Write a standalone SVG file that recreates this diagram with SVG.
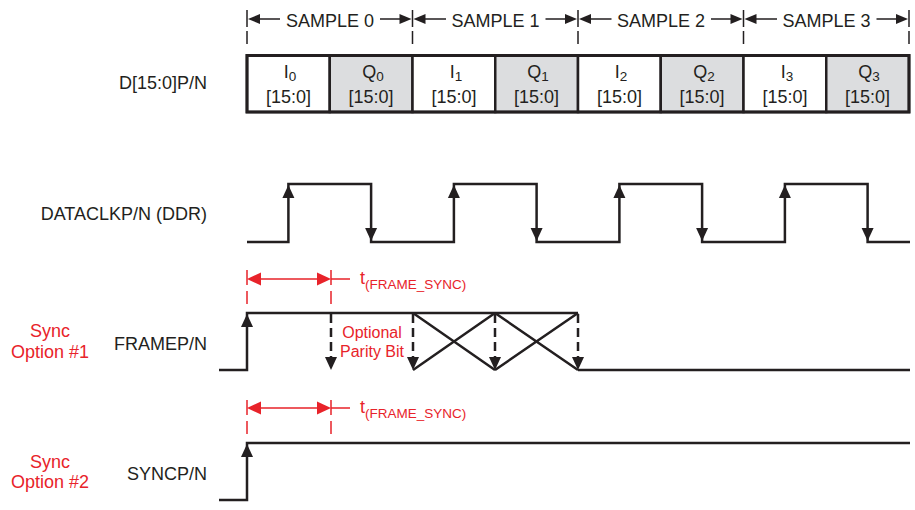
<svg xmlns="http://www.w3.org/2000/svg" xmlns:xlink="http://www.w3.org/1999/xlink" width="915" height="510" viewBox="0 0 915 510">
<style>
text{font-family:"Liberation Sans",Arial,sans-serif;fill:#231f20}
.lbl{font-size:18px}
.red{fill:#e8232a}
.sub{font-size:13.5px}
.box{stroke:#231f20;stroke-width:2.5}
.w{fill:none;stroke:#231f20;stroke-width:2.5}
.d{fill:none;stroke:#231f20;stroke-width:2.5;stroke-dasharray:9 5}
.tk{fill:none;stroke:#231f20;stroke-width:1.5}
.rl{fill:none;stroke:#e8232a;stroke-width:1.5}
.rd{fill:none;stroke:#e8232a;stroke-width:1.5;stroke-dasharray:15 6}
</style>
<defs>
<path id="aU" d="M0,0 L-6,13 L6,13 Z" fill="#231f20"/>
<path id="aD" d="M0,0 L-6,-13 L6,-13 Z" fill="#231f20"/>
<path id="aL" d="M0,0 L12,-5 L12,5 Z" fill="#231f20"/>
<path id="aR" d="M0,0 L-12,-5 L-12,5 Z" fill="#231f20"/>
<path id="rL" d="M0,0 L14,-6.5 L14,6.5 Z" fill="#e8232a"/>
<path id="rR" d="M0,0 L-14,-6.5 L-14,6.5 Z" fill="#e8232a"/>
</defs>

<g id="labels">
<text class="lbl" x="207" y="89" text-anchor="end">D[15:0]P/N</text>
<text class="lbl" x="207" y="220" text-anchor="end">DATACLKP/N (DDR)</text>
<text class="lbl" x="207" y="350" text-anchor="end">FRAMEP/N</text>
<text class="lbl" x="207" y="480" text-anchor="end">SYNCP/N</text>
<text class="lbl red" x="50" y="337" text-anchor="middle">Sync</text>
<text class="lbl red" x="50" y="358" text-anchor="middle">Option #1</text>
<text class="lbl red" x="50" y="468" text-anchor="middle">Sync</text>
<text class="lbl red" x="50" y="488" text-anchor="middle">Option #2</text>
</g>

<g id="samples">
<g fill="none" class="tk">
<path d="M247,10 V27 M247,31 V44 M412.5,10 V27 M412.5,31 V44 M578,10 V27 M578,31 V44 M743.5,10 V27 M743.5,31 V44 M909,10 V27 M909,31 V44"/>
<path d="M259,19 H280 M380,19 H400.5 M424.5,19 H446 M545.5,19 H566 M590,19 H611.5 M711,19 H731.5 M755.5,19 H777 M876.5,19 H897"/>
</g>
<use xlink:href="#aL" x="248" y="19"/><use xlink:href="#aR" x="411.5" y="19"/>
<use xlink:href="#aL" x="413.5" y="19"/><use xlink:href="#aR" x="577" y="19"/>
<use xlink:href="#aL" x="579" y="19"/><use xlink:href="#aR" x="742.5" y="19"/>
<use xlink:href="#aL" x="744.5" y="19"/><use xlink:href="#aR" x="908" y="19"/>
<text class="lbl" x="330" y="27" text-anchor="middle">SAMPLE 0</text>
<text class="lbl" x="495.5" y="27" text-anchor="middle">SAMPLE 1</text>
<text class="lbl" x="661" y="27" text-anchor="middle">SAMPLE 2</text>
<text class="lbl" x="826.5" y="27" text-anchor="middle">SAMPLE 3</text>
</g>

<g id="data-bus">
<g class="box">
<rect x="247" y="55.5" width="82.75" height="56.5" fill="#ffffff"/>
<rect x="329.75" y="55.5" width="82.75" height="56.5" fill="#dcdddf"/>
<rect x="412.5" y="55.5" width="82.75" height="56.5" fill="#ffffff"/>
<rect x="495.25" y="55.5" width="82.75" height="56.5" fill="#dcdddf"/>
<rect x="578" y="55.5" width="82.75" height="56.5" fill="#ffffff"/>
<rect x="660.75" y="55.5" width="82.75" height="56.5" fill="#dcdddf"/>
<rect x="743.5" y="55.5" width="82.75" height="56.5" fill="#ffffff"/>
<rect x="826.25" y="55.5" width="82.75" height="56.5" fill="#dcdddf"/>
</g>
<rect x="247" y="55.5" width="662" height="56.5" fill="none" stroke="#231f20" stroke-width="3"/>
<g class="lbl" text-anchor="middle">
<text x="290" y="78">I<tspan class="sub" dy="3">0</tspan></text>
<text x="373" y="78">Q<tspan class="sub" dy="3">0</tspan></text>
<text x="456" y="78">I<tspan class="sub" dy="3">1</tspan></text>
<text x="538" y="78">Q<tspan class="sub" dy="3">1</tspan></text>
<text x="621" y="78">I<tspan class="sub" dy="3">2</tspan></text>
<text x="704" y="78">Q<tspan class="sub" dy="3">2</tspan></text>
<text x="787" y="78">I<tspan class="sub" dy="3">3</tspan></text>
<text x="869" y="78">Q<tspan class="sub" dy="3">3</tspan></text>
<text x="288.4" y="103">[15:0]</text>
<text x="371.1" y="103">[15:0]</text>
<text x="453.9" y="103">[15:0]</text>
<text x="536.6" y="103">[15:0]</text>
<text x="619.4" y="103">[15:0]</text>
<text x="702.1" y="103">[15:0]</text>
<text x="784.9" y="103">[15:0]</text>
<text x="867.6" y="103">[15:0]</text>
</g>
</g>

<g id="clock">
<polyline class="w" points="247,242 288.4,242 288.4,184 371.1,184 371.1,242 453.9,242 453.9,184 536.6,184 536.6,242 619.4,242 619.4,184 702.1,184 702.1,242 784.9,242 784.9,184 867.6,184 867.6,242 910,242"/>
<use xlink:href="#aU" x="288.4" y="185"/><use xlink:href="#aD" x="371.1" y="241"/>
<use xlink:href="#aU" x="453.9" y="185"/><use xlink:href="#aD" x="536.6" y="241"/>
<use xlink:href="#aU" x="619.4" y="185"/><use xlink:href="#aD" x="702.1" y="241"/>
<use xlink:href="#aU" x="784.9" y="185"/><use xlink:href="#aD" x="867.6" y="241"/>
</g>

<g id="frame-timing">
<path class="rd" d="M247,270 V304 M331,270 V304"/>
<path class="rl" d="M255,279 H323 M331,279 H350"/>
<use xlink:href="#rL" x="247" y="279"/><use xlink:href="#rR" x="331" y="279"/>
<text class="red" x="360" y="284" font-size="18">t<tspan class="sub" dy="5">(FRAME_SYNC)</tspan></text>
</g>

<g id="frame">
<polyline class="w" points="219,370 247,370 247,313 578,313"/>
<path class="w" d="M413,313 L495,370 M413,370 L495,313 M495,313 L578,370 M495,370 L578,313 M578,370 H910"/>
<path class="d" d="M331,314 V358 M413,314 V358 M495,314 V358 M578,314 V358"/>
<use xlink:href="#aU" x="247" y="314"/>
<use xlink:href="#aD" x="331" y="370"/><use xlink:href="#aD" x="413" y="370"/>
<use xlink:href="#aD" x="495" y="370"/><use xlink:href="#aD" x="578" y="370"/>
<text class="red" x="372" y="338" font-size="16" text-anchor="middle">Optional</text>
<text class="red" x="372" y="357" font-size="16" text-anchor="middle">Parity Bit</text>
</g>

<g id="sync-timing">
<path class="rd" d="M247,400 V434 M331,400 V434"/>
<path class="rl" d="M255,408 H323 M331,408 H350"/>
<use xlink:href="#rL" x="247" y="408"/><use xlink:href="#rR" x="331" y="408"/>
<text class="red" x="360" y="413" font-size="18">t<tspan class="sub" dy="5">(FRAME_SYNC)</tspan></text>
</g>

<g id="sync">
<polyline class="w" points="219,500 247,500 247,443 910,443"/>
<use xlink:href="#aU" x="247" y="444"/>
</g>
</svg>
